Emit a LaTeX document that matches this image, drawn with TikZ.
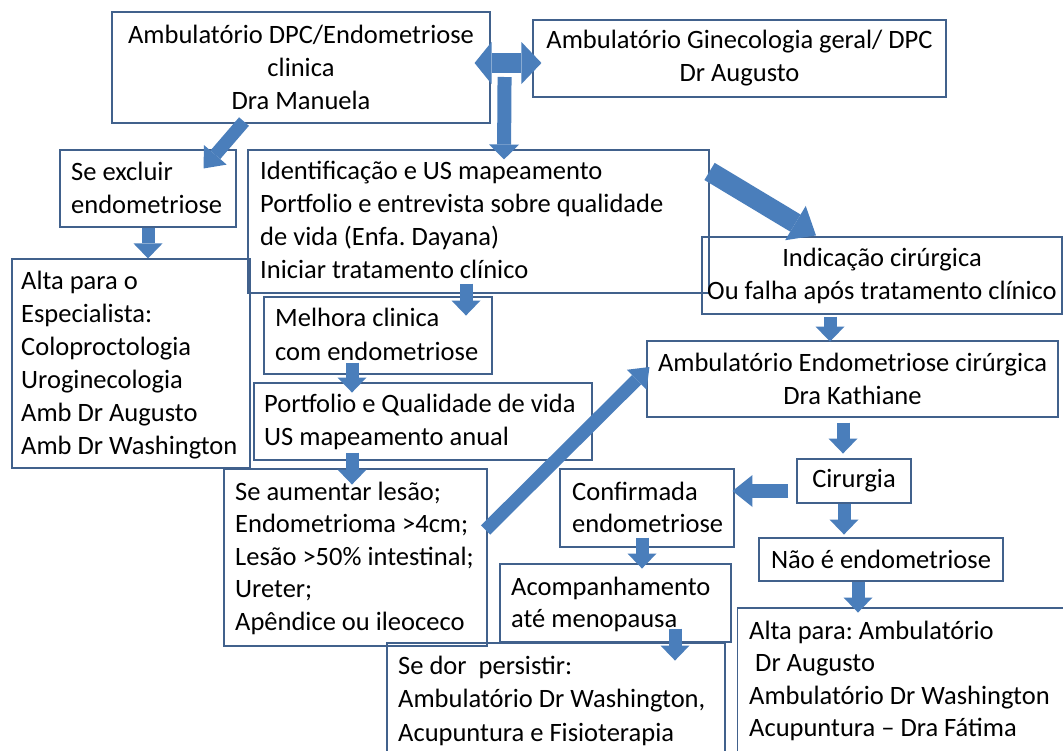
\documentclass[tikz,border=0pt]{standalone}
\usepackage{fontspec}
\setmainfont{Carlito}
\usetikzlibrary{arrows.meta,calc}
\definecolor{boxc}{HTML}{41618C}
\definecolor{arrc}{HTML}{4A7EBB}
\frenchspacing
\newcommand\tf{\fontsize{26.5}{33}\selectfont}
\newcommand\firststrut{\rule{0pt}{22pt}}
\tikzset{
  box/.style 2 args={draw=boxc, line width=1.1pt, inner sep=0pt, minimum width=#1, minimum height=#2, font=\tf, align=center},
  txt/.style={inner sep=0pt, anchor=north west, align=left, font=\tf},
  blk/.style n args={3}{draw=arrc, line width=#1, -{Triangle[width=#2,length=#3,line width=0pt]}},
  sblk/.style={blk={13pt}{29pt}{15pt}},
  dbl/.style={draw=arrc, line width=20pt, {Triangle[width=42pt,length=17pt,line width=0pt]}-{Triangle[width=42pt,length=20pt,line width=0pt]}}
}
\begin{document}
\frenchspacing
\begin{tikzpicture}[x=1pt,y=-1pt]
\useasboundingbox (0,0) rectangle (1063,750);
\clip (0,0) rectangle (1063,750);
\fill[white] (0,0) rectangle (1063,750);

% boxes
\node[box={378pt}{111pt}] (A) at (301,67.5) {Ambulatório DPC/Endometriose\\clinica\\Dra Manuela};
\node[box={413pt}{77pt}] (B) at (739.5,58.5) {Ambulatório Ginecologia geral/ DPC\\Dr Augusto};
\node[box={461pt}{143pt}] (C) at (478.5,221.5) {};
\node[txt] (Ct) at (260,157) {\firststrut Identificação e US mapeamento\\Portfolio e entrevista sobre qualidade\\de vida (Enfa. Dayana)\\Iniciar tratamento clínico};
\node[box={176pt}{77pt}] (D) at (148,188.5) {};
\node[txt] (Dt) at (71,158) {\firststrut Se excluir\\endometriose};
\node[box={238pt}{209pt}] (E) at (131,363.5) {};
\node[txt] (Et) at (21,267) {\firststrut Alta para o\\Especialista:\\Coloproctologia\\Uroginecologia\\Amb Dr Augusto\\Amb Dr Washington};
\node[box={360pt}{77pt}] (F) at (882,275.5) {Indicação cirúrgica\\Ou falha após tratamento clínico};
\node[box={228pt}{77pt}] (G) at (378,335.5) {};
\node[txt, font=\fontsize{26.5}{34}\selectfont] (Gt) at (275,304) {\firststrut Melhora clinica\\com endometriose};
\node[box={338pt}{77pt}] (H) at (423,421.5) {};
\node[txt] (Ht) at (264,390) {\firststrut Portfolio e Qualidade de vida\\US mapeamento anual};
\node[box={263pt}{177pt}] (I) at (355.5,557.5) {};
\node[txt, font=\fontsize{26.5}{32.5}\selectfont] (It) at (235,478) {\firststrut Se aumentar lesão;\\Endometrioma >4cm;\\Lesão >50\% intestinal;\\Ureter;\\Apêndice ou ileoceco};
\node[box={411pt}{76pt}] (J) at (852.5,379) {Ambulatório Endometriose cirúrgica\\Dra Kathiane};
\node[box={114pt}{44pt}] (K) at (854,481) {Cirurgia};
\node[box={174pt}{78pt}] (L) at (647,508) {};
\node[txt, font=\fontsize{26.5}{32.5}\selectfont] (Lt) at (572,478) {\firststrut Confirmada\\endometriose};
\node[box={244pt}{43pt}] (M) at (881,559.5) {Não é endometriose};
\node[box={231pt}{78pt}] (N) at (615.5,603) {};
\node[txt, font=\fontsize{26.5}{32}\selectfont] (Nt) at (511,573) {\firststrut Acompanhamento\\até menopausa};
\node[box={338pt}{127pt}] (O) at (556,706.5) {};
\node[txt, font=\fontsize{26.5}{33.5}\selectfont] (Ot) at (398,652) {\firststrut Se dor\ \ persistir:\\Ambulatório Dr Washington,\\Acupuntura e Fisioterapia};
\node[box={337pt}{162pt}] (P) at (906,689) {};
\node[txt, font=\fontsize{26.5}{32.5}\selectfont] (Pt) at (749,617) {\firststrut Alta para: Ambulatório\\\hspace*{6pt}Dr Augusto\\Ambulatório Dr Washington\\Acupuntura – Dra Fátima};

% block arrows
\draw[dbl] ([xshift=-16pt,yshift=4.5pt]A.east) -- ([xshift=9pt,yshift=-4.5pt]B.west);
\draw[blk={14pt}{30pt}{15pt}] ([xshift=14pt,yshift=-9.5pt]A.east) -- ([xshift=25.5pt,yshift=-10pt]C.north);
\draw[blk={13pt}{30pt}{18pt}] ([xshift=-57pt,yshift=2pt]A.south) -- ([xshift=-33pt,yshift=-19pt]D.north east);
\draw[sblk] (D.south) -- (D.south |- E.north);
\draw[blk={20pt}{40pt}{24pt}] ([yshift=-22pt]C.north east) -- ([xshift=-66pt,yshift=1pt]F.north);
\draw[sblk] ([xshift=-12.5pt,yshift=10pt]C.south) -- ++(0,32);
\draw[sblk] ([xshift=-26pt,yshift=12pt]G.south) -- ++(0,30);
\draw[sblk] ([xshift=-71pt,yshift=8pt]H.south) -- ++(0,32);
\draw[blk={13pt}{28pt}{18pt}] ([xshift=-2pt,yshift=27.5pt]I.east) -- ([xshift=3pt,yshift=12pt]J.west);
\draw[sblk] ([xshift=-52pt,yshift=-2pt]F.south) -- ++(0,25);
\draw[sblk] ([xshift=-9.5pt,yshift=-5pt]J.south) -- ++(0,31);
\draw[blk={14pt}{32pt}{20pt}] ([xshift=-8pt,yshift=-10pt]K.west) -- ++(-56,0);
\draw[sblk] ([xshift=-10pt]K.south) -- ++(0,31);
\draw[sblk] ([xshift=-5pt,yshift=10pt]L.south) -- ++(0,31);
\draw[sblk] ([xshift=59.5pt,yshift=14pt]N.south) -- ++(0,32);
\draw[sblk] ([xshift=-23pt]M.south) -- ++(0,31);
\end{tikzpicture}
\end{document}
